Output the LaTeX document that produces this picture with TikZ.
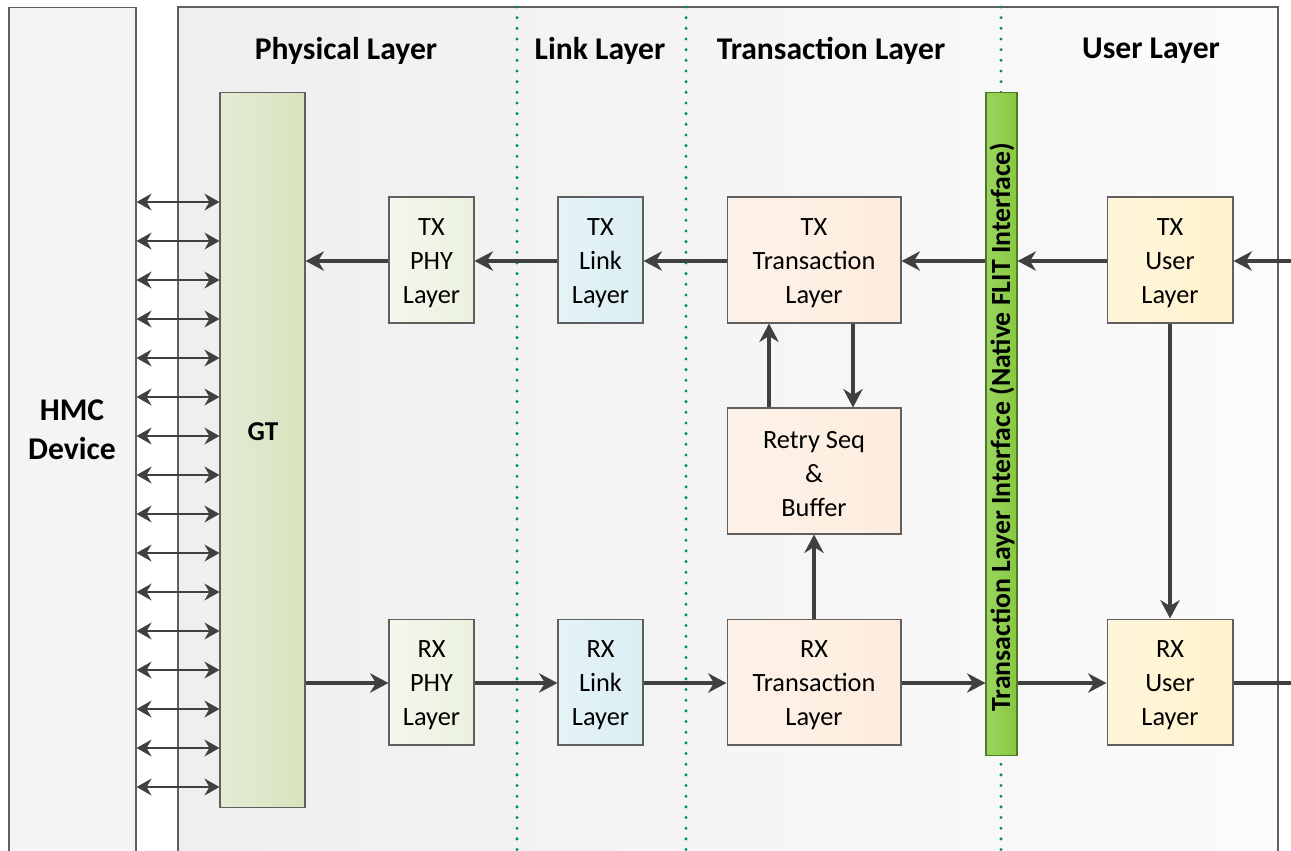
\documentclass[tikz,border=0pt]{standalone}
\usepackage{fontspec}
\setmainfont{Carlito}
\usetikzlibrary{arrows.meta}
\definecolor{arrgray}{HTML}{404040}
\definecolor{boxedge}{HTML}{5F5F5F}
\definecolor{phyC}{HTML}{EBF1DE}
\definecolor{linkC}{HTML}{DAEEF3}
\definecolor{trC}{HTML}{FDE9D9}
\definecolor{userC}{HTML}{FFF2CC}
\definecolor{gtL}{HTML}{E3EBD6}
\definecolor{gtR}{HTML}{D7E4BD}
\definecolor{barL}{HTML}{9AD560}
\definecolor{barR}{HTML}{86C83E}
\definecolor{barEdge}{HTML}{4F7A28}
\definecolor{sepgreen}{HTML}{00994D}
\newcommand\topstrut{\rule{0pt}{13pt}}
\begin{document}
\begin{tikzpicture}[x=0.02cm,y=-0.02cm,
  blk/.style={draw=boxedge, line width=0.6pt, align=center, inner sep=0pt,
    font=\fontsize{15}{19.3}\selectfont},
  phy/.style={blk, left color=phyC!55!white, right color=phyC, minimum width=1.7cm, minimum height=2.52cm},
  lnk/.style={blk, left color=linkC!70!white, right color=linkC, minimum width=1.7cm, minimum height=2.52cm},
  trn/.style={blk, left color=trC!60!white, right color=trC!85!white, minimum width=3.48cm, minimum height=2.52cm},
  usr/.style={blk, left color=userC!70!white, right color=userC, minimum width=2.52cm, minimum height=2.52cm},
  arr/.style={draw=arrgray, line width=1.9pt, -{Stealth[length=10.5pt,width=11pt]}},
  plain/.style={draw=arrgray, line width=1.9pt},
  dbl/.style={draw=arrgray, line width=1.4pt, {Stealth[length=8.5pt,width=9.5pt]}-{Stealth[length=8.5pt,width=9.5pt]}},
  hdr/.style={font=\fontsize{18}{22}\selectfont\bfseries},
  sep/.style={draw=sepgreen, line width=1.9pt, line cap=round, dash pattern=on 0pt off 6.07pt}]
\clip (0,0) rectangle (1291,850);
\fill[white] (0,0) rectangle (1291,850);
% main layer area
\shade[left color=gray!13, right color=gray!3] (178,7) rectangle (1278,870);
\draw[boxedge, line width=0.6pt] (178,870) -- (178,7) -- (1278,7) -- (1278,870);
% HMC device
\node[draw=boxedge, line width=0.6pt, fill=gray!9, minimum width=2.54cm, minimum height=17.26cm, inner sep=0pt] (hmc) at (72.5,438.5) {};
\node[font=\fontsize{18}{22}\selectfont\bfseries, align=center] (hmctext) at (72,430) {HMC\\Device};
% separators
\foreach \xx/\nm in {517/sa,686/sb,1001/sc} {
  \coordinate (\nm top) at (\xx,7);
  \coordinate (\nm bot) at (\xx,850);
  \draw[sep] (\nm top) -- (\nm bot);
}
% headers
\node[hdr] (h1) at (346,51) {Physical Layer};
\node[hdr] (h2) at (600,51) {Link Layer};
\node[hdr] (h3) at (831,51) {Transaction Layer};
\node[hdr] (h4) at (1151,51) {User Layer};
% GT
\node[draw=boxedge, line width=0.6pt, left color=gtL, right color=gtR, minimum width=1.7cm, minimum height=14.32cm, inner sep=0pt] (gt) at (262.5,450) {};
\node[font=\fontsize{15.5}{18}\selectfont\bfseries] (gttext) at (263,432) {GT};
% interface bar
\node[draw=barEdge, line width=0.6pt, left color=barL, right color=barR, minimum width=0.62cm, minimum height=13.28cm, inner sep=0pt] (tli) at (1001.5,424) {};
\node[rotate=90, font=\fontsize{15.8}{18}\selectfont\bfseries] (tlitext) at (1002,427) {Transaction Layer Interface (Native FLIT Interface)};
% blocks
\node[phy] (txphy) at (431.5,260) {\topstrut TX\\PHY\\Layer};
\node[lnk] (txlink) at (600.5,260) {\topstrut TX\\Link\\Layer};
\node[trn] (txtr) at (814,260) {\topstrut TX\\Transaction\\Layer};
\node[trn] (retry) at (814,471) {\topstrut Retry Seq\\\&\\Buffer};
\node[trn] (rxtr) at (814,682) {\topstrut RX\\Transaction\\Layer};
\node[phy] (rxphy) at (431.5,682) {\topstrut RX\\PHY\\Layer};
\node[lnk] (rxlink) at (600.5,682) {\topstrut RX\\Link\\Layer};
\node[usr] (txuser) at (1170,260) {\topstrut TX\\User\\Layer};
\node[usr] (rxuser) at (1170,682) {\topstrut RX\\User\\Layer};
% double arrows HMC <-> GT
\foreach \i in {0,...,15} {
  \pgfmathsetmacro\yy{202+39*\i}
  \draw[dbl] (hmc.east |- 0,\yy) -- (gt.west |- 0,\yy);
}
% TX path
\coordinate (txin) at (1295,261);
\draw[arr] (txin) -- (txuser.east |- txin);
\draw[arr] (txuser.west |- txin) -- (tli.east |- txin);
\draw[arr] (tli.west |- txin) -- (txtr.east |- txin);
\draw[arr] (txtr.west |- txin) -- (txlink.east |- txin);
\draw[arr] (txlink.west |- txin) -- (txphy.east |- txin);
\draw[arr] (txphy.west |- txin) -- (gt.east |- txin);
% RX path
\coordinate (rxout) at (1295,683);
\draw[arr] (gt.east |- rxout) -- (rxphy.west |- rxout);
\draw[arr] (rxphy.east |- rxout) -- (rxlink.west |- rxout);
\draw[arr] (rxlink.east |- rxout) -- (rxtr.west |- rxout);
\draw[arr] (rxtr.east |- rxout) -- (tli.west |- rxout);
\draw[arr] (tli.east |- rxout) -- (rxuser.west |- rxout);
\draw[plain] (rxuser.east |- rxout) -- (rxout);
% vertical arrows
\draw[arr] (txtr.south -| 853,0) -- (retry.north -| 853,0);
\draw[arr] (retry.north -| 769,0) -- (txtr.south -| 769,0);
\draw[arr] (rxtr.north) -- (retry.south);
\draw[arr] (txuser.south) -- (rxuser.north);
\end{tikzpicture}
\end{document}
